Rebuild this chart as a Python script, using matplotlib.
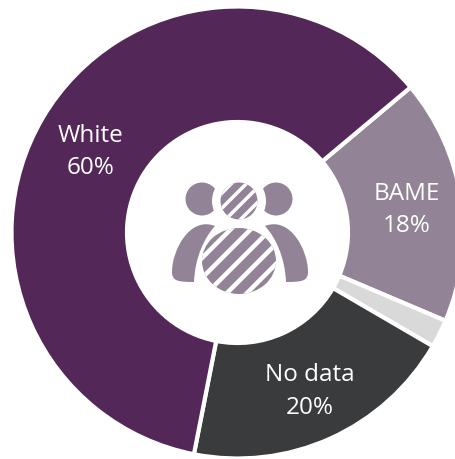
import matplotlib
matplotlib.use('Agg')
import numpy as np
import matplotlib.pyplot as plt
from matplotlib.patches import Circle, Ellipse, PathPatch
from matplotlib.path import Path

# Chart values
categories = ['BAME', 'Other', 'No data', 'White']
values = [17.5, 2, 19.7, 60.8]
labels = ['BAME\n18%', '', 'No data\n20%', 'White\n60%']
colors = ['#928496', '#d9d9d9', '#3a3b3d', '#532858']

W, H = 456, 459
plt.rcParams['font.family'] = ['Open Sans', 'DejaVu Sans']

fig = plt.figure(figsize=(W / 100, H / 100), dpi=100)
ax = fig.add_axes([0, 0, 1, 1])


# the reference is easiest to measure in pixels, y going down
def py(y):
    return H - y


cx, cy, radius = 237.5, py(232.5), 226
hole = 110.5

wedges, _ = ax.pie(values, colors=colors, startangle=40, counterclock=False,
                   center=(cx, cy), radius=radius,
                   wedgeprops=dict(width=radius - hole, edgecolor='white', linewidth=3))
ax.set_xlim(0, W)
ax.set_ylim(0, H)
ax.set_aspect('equal')
ax.axis('off')

# labels sit by hand, the pie's own label distance does not fit
label_pos = [(407, 210), None, (310, 392), (91, 152)]
for lab, pos in zip(labels, label_pos):
    if pos is None:
        continue
    ax.text(pos[0], py(pos[1]), lab, color='white', fontsize=17.5, ha='center', va='center',
            linespacing=1.5)

# Icon in the middle
icon = colors[0]


def striped(patch, step, width):
    ax.add_patch(patch)
    for off in np.arange(-200, 200, step):
        line, = ax.plot([150, 330], [py(260) + off - 90, py(260) + off + 90],
                        color='white', lw=width * 0.72, solid_capstyle='butt')
        line.set_clip_path(patch)


ax.add_patch(Circle((202, py(199)), 16.5, color=icon, lw=0))
ax.add_patch(Circle((276, py(199)), 16.5, color=icon, lw=0))
ax.add_patch(Circle((239, py(201)), 27, color='white', lw=0))
striped(Circle((239, py(201)), 18.5, color=icon, lw=0), 15, 3.5)


def side_body(sign):
    mid = 240
    pts = [(-25, 226), (-50, 216), (-68, 250), (-68, 272), (-68, 281), (-62, 282),
           (-46, 282), (-45, 258), (-36, 238), (-25, 226)]
    verts = [(mid + sign * x, py(y)) for x, y in pts]
    codes = [Path.MOVETO, Path.CURVE4, Path.CURVE4, Path.CURVE4,
             Path.CURVE4, Path.CURVE4, Path.CURVE4,
             Path.CURVE4, Path.CURVE4, Path.CURVE4]
    return PathPatch(Path(verts, codes), facecolor=icon, lw=0)


ax.add_patch(side_body(-1))
ax.add_patch(side_body(1))
striped(Ellipse((239, py(261)), 74, 66, color=icon, lw=0), 20, 4.5)

fig.savefig('out.png', dpi=100)
